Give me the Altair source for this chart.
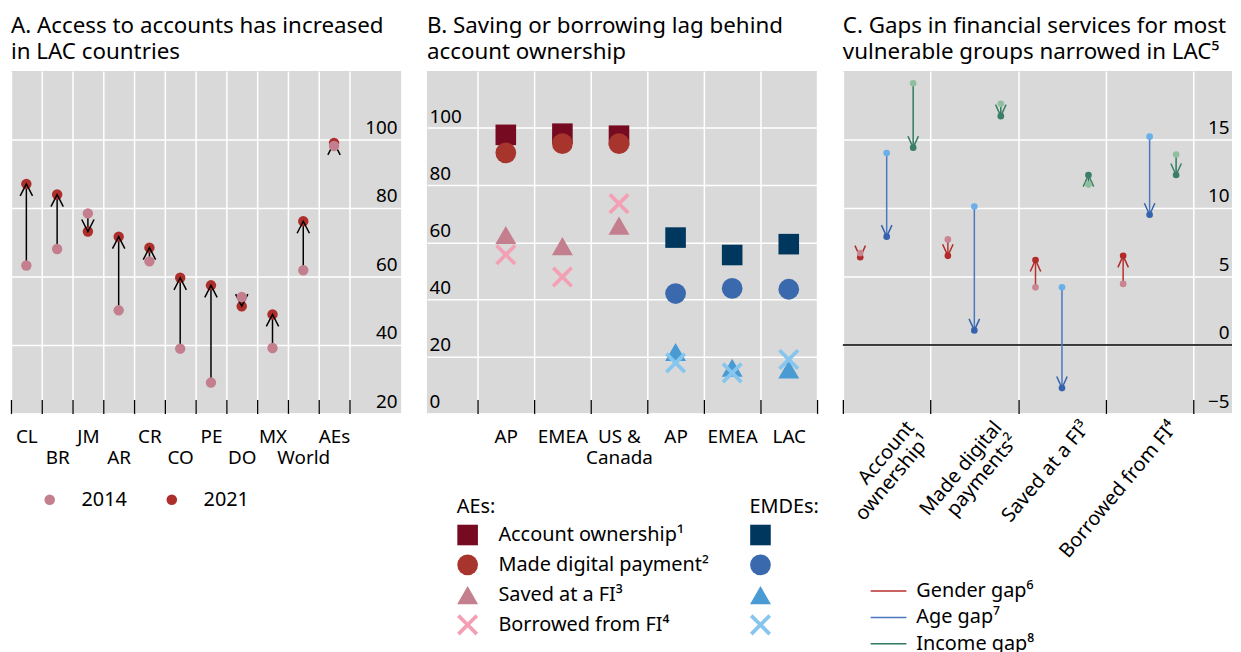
import altair as alt
import pandas as pd

FONT = "Noto Sans"
BG = "#d9d9d9"

# ---------------- Panel A data ----------------
a_countries = ["CL", "BR", "JM", "AR", "CR", "CO", "PE", "DO", "MX", "World", "AEs"]
a_row2 = ["BR", "AR", "CO", "DO", "World"]
a_2014 = [63.2, 68.0, 78.4, 50.1, 64.4, 38.9, 29.0, 54.0, 39.1, 61.8, 98.1]
a_2021 = [87.0, 83.9, 73.1, 71.6, 68.4, 59.6, 57.4, 51.3, 48.9, 76.1, 99.0]
a_years = ["2014", "2021"]
a_colors = ["#c47f8e", "#ad2f2b"]
a_ticks = [20, 40, 60, 80, 100]

# ---------------- Panel B data ----------------
b_keys = ["ae_ap", "ae_emea", "ae_us", "em_ap", "em_emea", "em_lac"]
b_labels = ["AP", "EMEA", "US &|Canada", "AP", "EMEA", "LAC"]
b_groups = ["AEs", "AEs", "AEs", "EMDEs", "EMDEs", "EMDEs"]
b_measures = ["Account ownership¹", "Made digital payment²", "Saved at a FI³", "Borrowed from FI⁴"]
b_account = [97.6, 98.0, 97.3, 61.6, 55.5, 59.3]
b_digital = [91.3, 94.5, 94.5, 42.0, 43.8, 43.5]
b_saved = [62.5, 58.6, 65.8, 21.5, 16.0, 15.4]
b_borrowed = [55.6, 47.8, 73.5, 17.7, 14.2, 18.9]
b_ae_colors = ["#750a20", "#a8342e", "#c47f8e", "#f4a0b4"]
b_em_colors = ["#00375e", "#3a6aad", "#4a9bd4", "#86c5ee"]
b_ticks = [0, 20, 40, 60, 80, 100]

# ---------------- Panel C data ----------------
c_cats = ["Account ownership¹", "Made digital payments²", "Saved at a FI³", "Borrowed from FI⁴"]
c_gaps = ["Gender gap⁶", "Age gap⁷", "Income gap⁸"]
c_start_gender = [6.7, 7.7, 4.2, 4.45]
c_end_gender = [6.4, 6.5, 6.2, 6.5]
c_start_age = [14.0, 10.1, 4.2, 15.2]
c_end_age = [7.9, 1.06, -3.15, 9.5]
c_start_income = [19.1, 17.6, 11.7, 13.9]
c_end_income = [14.4, 16.7, 12.4, 12.4]
c_line_colors = ["#b8312e", "#4a78c0", "#2f7a5c"]
c_end_colors = ["#b22a2a", "#3563ad", "#3a7f66"]
c_start_colors = ["#c98592", "#6aafe8", "#8fbf9f"]
c_ticks = [-5, 0, 5, 10, 15]
c_zero = [0]

# ---------------- shapes ----------------
V_PATH = "M-1,-1.95L0,0L1,-1.95"
V_PATH_C = "M-1,-2.2L0,0L1,-2.2"
X_PATH = ("M-1,-0.75L-0.75,-1L0,-0.25L0.75,-1L1,-0.75L0.25,0L1,0.75L0.75,1"
          "L0,0.25L-0.75,1L-1,0.75L-0.25,0Z")
LINE_PATH = "M-3,0L3,0"
b_shapes = ["square", "circle", "triangle-up", X_PATH]
b_sizes = [430, 452, 576, 289]

W_A, W_B, W_C, H = 393, 393, 392, 345


def title(lines):
    return alt.TitleParams(text=lines, anchor="start", frame="group", fontSize=22.5,
                           fontWeight="normal", font=FONT, color="black", offset=8,
                           lineHeight=25.5)


def band_axis(**kw):
    base = dict(title=None, tickBand="extent", grid=True, domain=False, ticks=True,
                tickSize=14, offset=-14, tickColor="black", tickWidth=1.3,
                labelPadding=14, labelLineHeight=21)
    base.update(kw)
    return alt.Axis(**base)


def value_axis(orient, values, pad, align):
    return alt.Axis(orient=orient, values=values, title=None, domain=False, ticks=False,
                    tickSize=0, labelAlign=align, labelPadding=pad,
                    labelBaseline="alphabetic", labelOffset=-6, grid=True)


# ================= Panel A =================
dfa = pd.DataFrame({"country": a_countries, "v2014": a_2014, "v2021": a_2021})
dfa_long = pd.DataFrame({
    "country": a_countries * 2,
    "year": ["2014"] * len(a_countries) + ["2021"] * len(a_countries),
    "value": a_2014 + a_2021,
})

xa = alt.X("country:N", sort=a_countries,
           scale=alt.Scale(type="band", paddingInner=0, paddingOuter=0.84, align=0),
           axis=band_axis(labelAngle=0,
                          labelExpr=f"indexof({a_row2}, datum.value) >= 0 ? ['', datum.value] : datum.value"))
ya_scale = alt.Scale(domain=[20, 120], nice=False, zero=False)
ya_axis = value_axis("right", a_ticks, -4, "right")
leg_a = alt.Legend(title=None, orient="none", legendX=29, legendY=422, direction="horizontal",
                   symbolSize=113, labelOffset=22, columnPadding=35, symbolStrokeWidth=0)
col_a = alt.Color("year:N", scale=alt.Scale(domain=a_years, range=a_colors), legend=leg_a)

shaft_a = alt.Chart(dfa).mark_rule(color="black", strokeWidth=1.5).encode(
    x=xa, y=alt.Y("v2014:Q", scale=ya_scale, axis=ya_axis), y2="v2021:Q")
dots21 = alt.Chart(dfa_long).transform_filter(alt.datum.year == "2021").mark_circle(
    size=110, opacity=1).encode(x=xa, y=alt.Y("value:Q", scale=ya_scale, axis=ya_axis), color=col_a)
heads_a = alt.Chart(dfa).transform_calculate(
    ang="datum.v2021 >= datum.v2014 ? 180 : 0").mark_point(
    shape=V_PATH, size=154, filled=False, color="black", strokeWidth=1.5, opacity=1).encode(
    x=xa, y=alt.Y("v2021:Q", scale=ya_scale, axis=ya_axis), angle=alt.Angle("ang:Q", scale=None))
dots14 = alt.Chart(dfa_long).transform_filter(alt.datum.year == "2014").mark_circle(
    size=110, opacity=1).encode(x=xa, y=alt.Y("value:Q", scale=ya_scale, axis=ya_axis), color=col_a)

panel_a = alt.layer(shaft_a, dots21, heads_a, dots14).properties(
    width=W_A, height=H,
    title=title(["A. Access to accounts has increased", "in LAC countries"]))

# ================= Panel B =================
dfb = pd.DataFrame({
    "key": b_keys * 4,
    "group": b_groups * 4,
    "measure": [m for m in b_measures for _ in b_keys],
    "value": b_account + b_digital + b_saved + b_borrowed,
})

xb = alt.X("key:N", sort=b_keys,
           scale=alt.Scale(type="band", paddingInner=0, paddingOuter=0.447, align=1),
           axis=band_axis(labelAngle=0,
                          labelExpr=f"indexof({b_keys}, datum.value) < 0 ? '' : "
                                    f"split({b_labels}[indexof({b_keys}, datum.value)], '|')"))
yb = alt.Y("value:Q", scale=alt.Scale(domain=[0, 120], nice=False, zero=False),
           axis=value_axis("left", b_ticks, -2, "left"))

leg_ae = alt.Legend(title="AEs:", orient="none", legendX=30, legendY=429, labelOffset=20,
                    rowPadding=9, symbolStrokeWidth=0, titlePadding=8, labelLimit=400)
leg_em = alt.Legend(title="EMDEs:", orient="none", legendX=325, legendY=429, labelExpr="''",
                    rowPadding=9, symbolStrokeWidth=0, titlePadding=8)


def b_layer(grp, colors, leg):
    return alt.Chart(dfb).transform_filter(alt.datum.group == grp).mark_point(
        filled=True, opacity=1, strokeWidth=0).encode(
        x=xb, y=yb,
        color=alt.Color("measure:N", scale=alt.Scale(domain=b_measures, range=colors), legend=leg),
        shape=alt.Shape("measure:N", scale=alt.Scale(domain=b_measures, range=b_shapes), legend=leg),
        size=alt.Size("measure:N", scale=alt.Scale(domain=b_measures, range=b_sizes), legend=leg),
    )


panel_b = alt.layer(b_layer("AEs", b_ae_colors, leg_ae), b_layer("EMDEs", b_em_colors, leg_em)).resolve_scale(
    color="independent", shape="independent", size="independent").properties(
    width=W_B, height=H,
    title=title(["B. Saving or borrowing lag behind", "account ownership"]))

# ================= Panel C =================
dfc = pd.DataFrame({
    "cat": c_cats * 3,
    "gap": [g for g in c_gaps for _ in c_cats],
    "start": c_start_gender + c_start_age + c_start_income,
    "end": c_end_gender + c_end_age + c_end_income,
})

xc = alt.X("cat:N", sort=c_cats,
           scale=alt.Scale(type="band", paddingInner=0, paddingOuter=0.22, align=0),
           axis=band_axis(labelAngle=-50, labelAlign="right", labelBaseline="top", labelPadding=4,
                          labelOffset=16, labelFontSize=20,
                          labelExpr="datum.value == 'Account ownership¹' ? ['Account', 'ownership¹'] : "
                                    "datum.value == 'Made digital payments²' ? ['Made digital', 'payments²'] : datum.value"))
xoc = alt.XOffset("gap:N", sort=c_gaps, scale=alt.Scale(paddingInner=0, paddingOuter=0.155))
yc_scale = alt.Scale(domain=[-5, 20], nice=False, zero=False)
yc_axis = value_axis("right", c_ticks, -3, "right")
leg_c = alt.Legend(title=None, orient="none", legendX=36, legendY=514, symbolType=LINE_PATH,
                   symbolSize=144, symbolStrokeWidth=1.5, labelOffset=18, rowPadding=6.5,
                   labelLimit=400)

zero_c = alt.Chart(pd.DataFrame({"z": c_zero})).mark_rule(color="black", strokeWidth=1.5).encode(
    y=alt.Y("z:Q", scale=yc_scale, axis=yc_axis))
shaft_c = alt.Chart(dfc).mark_rule(strokeWidth=1.5).encode(
    x=xc, xOffset=xoc, y=alt.Y("start:Q", scale=yc_scale, axis=yc_axis), y2="end:Q",
    stroke=alt.Stroke("gap:N", scale=alt.Scale(domain=c_gaps, range=c_line_colors), legend=leg_c))
end_c = alt.Chart(dfc).mark_circle(size=45, opacity=1).encode(
    x=xc, xOffset=xoc, y=alt.Y("end:Q", scale=yc_scale, axis=yc_axis),
    color=alt.Color("gap:N", scale=alt.Scale(domain=c_gaps, range=c_end_colors), legend=None))
heads_c = alt.Chart(dfc).transform_calculate(
    ang="datum.end >= datum.start ? 180 : 0").mark_point(
    shape=V_PATH_C, size=112, filled=False, strokeWidth=1.5, opacity=1).encode(
    x=xc, xOffset=xoc, y=alt.Y("end:Q", scale=yc_scale, axis=yc_axis),
    angle=alt.Angle("ang:Q", scale=None),
    color=alt.Color("gap:N", scale=alt.Scale(domain=c_gaps, range=c_end_colors), legend=None))
start_c = alt.Chart(dfc).mark_circle(size=45, opacity=1).encode(
    x=xc, xOffset=xoc, y=alt.Y("start:Q", scale=yc_scale, axis=yc_axis),
    fill=alt.Fill("gap:N", scale=alt.Scale(domain=c_gaps, range=c_start_colors), legend=None))

panel_c = alt.layer(zero_c, shaft_c, end_c, heads_c, start_c).properties(
    width=W_C, height=H,
    title=title(["C. Gaps in financial services for most", "vulnerable groups narrowed in LAC⁵"]))

chart = alt.hconcat(panel_a, panel_b, panel_c, spacing=26, bounds="flush").resolve_scale(
    color="independent", fill="independent", stroke="independent",
    shape="independent", size="independent", x="independent", y="independent"
).properties(
    padding={"left": 2, "top": 5, "right": 0, "bottom": 0}
).configure(font=FONT).configure_view(fill=BG, stroke=None).configure_axis(
    labelFont=FONT, labelFontSize=19, labelColor="black", gridColor="white", gridWidth=1.5,
    gridOpacity=1
).configure_legend(
    labelFont=FONT, titleFont=FONT, labelFontSize=20, titleFontSize=20, titleFontWeight="normal",
    labelColor="black", titleColor="black", labelLimit=400
)

chart.save("out.html", embed_options={"renderer": "svg", "actions": False})
